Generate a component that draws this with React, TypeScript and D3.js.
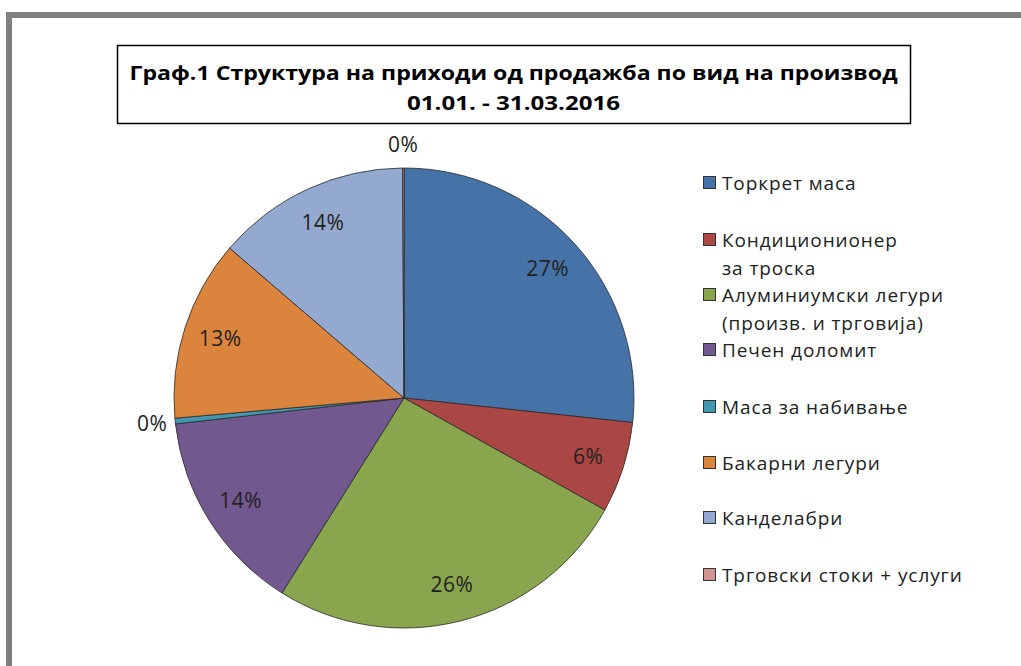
import React from "react";
import * as d3 from "d3";

const categories = [
  "Торкрет маса",
  "Кондиционионер за троска",
  "Алуминиумски легури (произв. и трговија)",
  "Печен доломит",
  "Маса за набивање",
  "Бакарни легури",
  "Канделабри",
  "Трговски стоки + услуги",
];
const legendLines = [
  ["Торкрет маса"],
  ["Кондиционионер", "за троска"],
  ["Алуминиумски легури", "(произв. и трговија)"],
  ["Печен доломит"],
  ["Маса за набивање"],
  ["Бакарни легури"],
  ["Канделабри"],
  ["Трговски стоки + услуги"],
];
const values = [26.7, 6.4, 25.8, 14.3, 0.4, 12.7, 13.6, 0.1];
const colors = ["#4572A7", "#AA4643", "#89A54E", "#71588F", "#4198AF", "#DB843D", "#93A9CF", "#D19392"];
const titleLines = ["Граф.1 Структура на приходи од продажба по вид на производ", "01.01. - 31.03.2016"];

const W = 1021;
const H = 666;
const cx = 404;
const cy = 398;
const R = 230;
const FONT = "'Open Sans', 'Noto Sans', sans-serif";

export default function App() {
  const total = d3.sum(values);
  const pie = d3.pie<number>().sort(null).value((d) => d);
  const arcs = pie(values);
  const arcGen = d3.arc<d3.PieArcDatum<number>>().innerRadius(0).outerRadius(R);
  const labelArc = d3.arc<d3.PieArcDatum<number>>().innerRadius(R * 0.84).outerRadius(R * 0.84);
  const outArc = d3.arc<d3.PieArcDatum<number>>().innerRadius(R * 1.1).outerRadius(R * 1.1);

  const legendX = 703;
  const legendTop = [183, 240, 295, 350, 407, 463, 518, 575];
  const lineGap = 28;

  return (
    <svg width={W} height={H} style={{ position: "absolute", left: 0, top: 0, background: "#fff" }}>
      <rect x={0} y={0} width={W} height={H} fill="#fff" />
      <rect x={9} y={15} width={1200} height={900} fill="#fff" stroke="#7f7f7f" strokeWidth={6} />
      <rect x={117.5} y={45.5} width={793} height={78} fill="#fff" stroke="#000" strokeWidth={1.5} />
      {titleLines.map((t, i) => (
        <text
          key={i}
          x={(117 + 910) / 2}
          y={80 + i * 30}
          textAnchor="middle"
          fontFamily={FONT}
          fontWeight="bold"
          fontSize={20}
          fill="#000"
          {...(i === 0 ? { textLength: 768, lengthAdjust: "spacingAndGlyphs" } : { textLength: 213, lengthAdjust: "spacingAndGlyphs" })}
        >
          {t}
        </text>
      ))}
      <g transform={`translate(${cx},${cy})`}>
        {arcs.map((a, i) => (
          <path key={i} d={arcGen(a) || ""} fill={colors[i]} stroke="#2a2a2a" strokeWidth={0.8} />
        ))}
        {arcs.map((a, i) => {
          const pct = Math.round((values[i] / total) * 100);
          const small = values[i] / total < 0.02;
          const [x, y] = small ? outArc.centroid(a) : labelArc.centroid(a);
          return (
            <text
              key={"l" + i}
              x={x}
              y={y}
              dy="0.35em"
              textAnchor="middle"
              fontFamily={FONT}
              fontSize={21}
              letterSpacing={0.5}
              fill="#222"
            >
              {pct + "%"}
            </text>
          );
        })}
      </g>
      {categories.map((c, i) => (
        <g key={c}>
          <rect x={legendX + 0.5} y={legendTop[i] - 6.5} width={12} height={12} fill={colors[i]} stroke="#333" strokeWidth={1} />
          {legendLines[i].map((ln, j) => (
            <text
              key={j}
              x={722}
              y={legendTop[i] + j * lineGap}
              dy="0.35em"
              fontFamily={FONT}
              fontSize={19}
              letterSpacing={0.9}
              fill="#222"
            >
              {ln}
            </text>
          ))}
        </g>
      ))}
    </svg>
  );
}
